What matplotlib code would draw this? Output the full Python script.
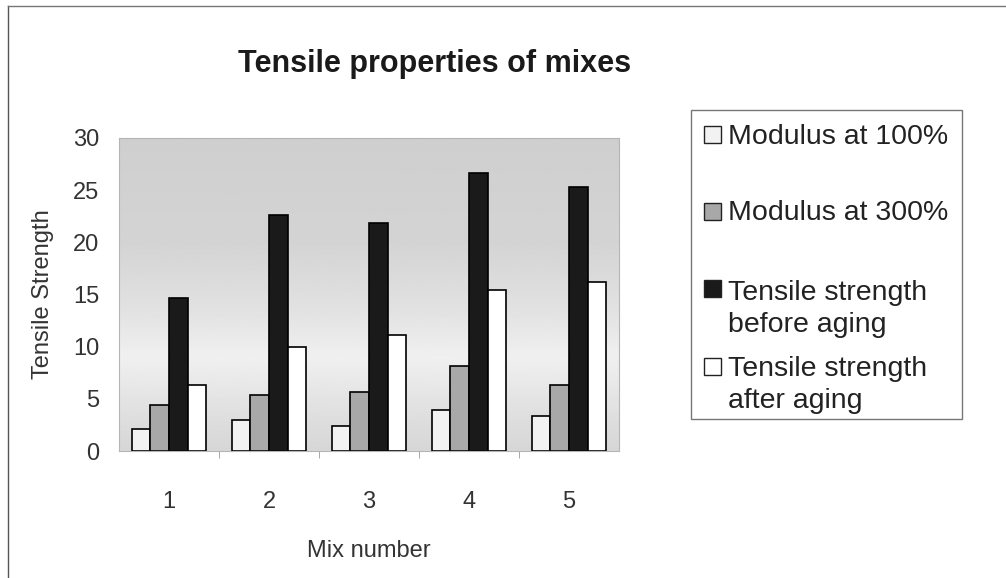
import numpy as np
import matplotlib
matplotlib.use('Agg')
import matplotlib.pyplot as plt
from matplotlib.patches import Rectangle
from matplotlib.lines import Line2D

plt.rcParams['font.family'] = ['Liberation Sans', 'DejaVu Sans']

# ---------------------------------------------------------------- dati
mixes = [1, 2, 3, 4, 5]
mod100 = [2.1, 3.0, 2.4, 3.9, 3.4]
mod300 = [4.4, 5.4, 5.7, 8.1, 6.3]
ts_before = [14.7, 22.6, 21.9, 26.6, 25.3]
ts_after = [6.3, 10.0, 11.1, 15.4, 16.2]
series_labels = ['Modulus at 100%', 'Modulus at 300%',
                 'Tensile strength\nbefore aging',
                 'Tensile strength\nafter aging']
yticks = [0, 5, 10, 15, 20, 25, 30]

colors = ['#f2f2f2', '#a8a8a8', '#1a1a1a', '#ffffff']
W, H = 1006, 578


def fx(px):
    return px / W


def fy(py):
    return 1 - py / H


fig = plt.figure(figsize=(W / 100, H / 100), dpi=100)
ax = fig.add_axes([fx(119), fy(451), fx(619) - fx(119), (451 - 138) / H])

# sfondo sfumato dell'area del grafico
yy = np.linspace(0, 30, 300)
shade = np.interp(yy, [0, 3, 9, 14, 20, 30], [0.84, 0.87, 0.94, 0.88, 0.83, 0.81])
ax.imshow(shade[:, None], extent=[0.5, 5.5, 0, 30], origin='lower',
          aspect='auto', cmap='gray', vmin=0, vmax=1, zorder=0)

x = np.array(mixes, dtype=float)
bw = 0.186
series = [mod100, mod300, ts_before, ts_after]
for i, (vals, col) in enumerate(zip(series, colors)):
    ax.bar(x + (i - 1.5) * bw, vals, width=bw, color=col,
           edgecolor='black', linewidth=1.2, zorder=2)

ax.set_xlim(0.5, 5.5)
ax.set_ylim(0, 30)
ax.set_yticks(yticks)
ax.set_xticks(mixes)
ax.set_xticks([1.5, 2.5, 3.5, 4.5], minor=True)
ax.tick_params(axis='y', length=0, pad=14, labelsize=17, labelcolor='#333333')
ax.tick_params(axis='x', which='major', length=0, pad=29, labelsize=17,
               labelcolor='#333333')
ax.tick_params(axis='x', which='minor', length=5, color='#999999', direction='out')
for s in ax.spines.values():
    s.set_color('#b5b5b5')
    s.set_linewidth(0.8)

ax.set_ylabel('Tensile Strength', fontsize=17, color='#333333')
ax.yaxis.set_label_coords((54 - 119) / 500, 0.5)
ax.set_xlabel('Mix number', fontsize=17, color='#333333', va='top')
ax.xaxis.set_label_coords(0.5, (451 - 540) / 313)

fig.text(fx(435), fy(64), 'Tensile properties of mixes', fontsize=22,
         fontweight='bold', color='#1a1a1a', ha='center', va='center')

# legenda disegnata a mano (layout Excel)
fig.patches.append(Rectangle((fx(691), fy(419)), fx(962) - fx(691),
                             (419 - 110) / H, transform=fig.transFigure,
                             facecolor='white', edgecolor='#777777', lw=1.0))
text_y = [137, 213, 309.5, 385]
mark_y = [135, 212, 289, 367]
for lab, col, ty, my in zip(series_labels, colors, text_y, mark_y):
    fig.patches.append(Rectangle((fx(704), fy(my + 8)), fx(17), 17 / H,
                                 transform=fig.transFigure, facecolor=col,
                                 edgecolor='#222222', lw=1.0))
    fig.text(fx(728), fy(ty), lab, fontsize=20.5, color='#222222',
             ha='left', va='center', linespacing=1.3)

# cornice esterna
fig.add_artist(Line2D([fx(8), fx(8)], [fy(6), fy(578)], color='#555555', lw=1.0))
fig.add_artist(Line2D([fx(8), fx(1006)], [fy(6), fy(6)], color='#777777', lw=1.0))

fig.savefig('out.png', dpi=100)
